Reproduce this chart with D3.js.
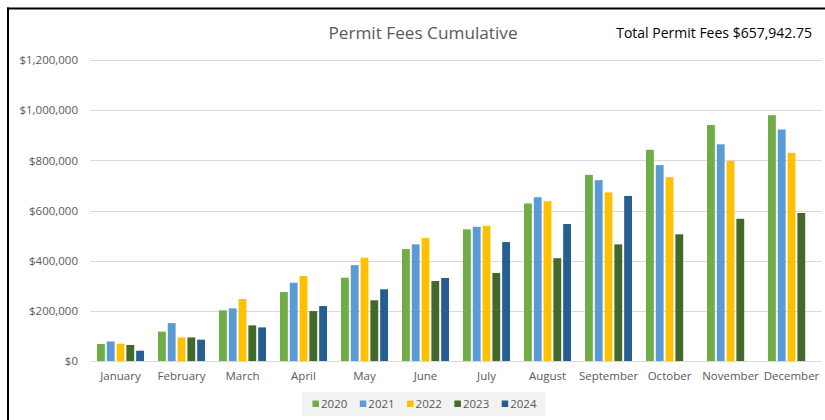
<!DOCTYPE html>
<html><head><meta charset="utf-8">
<script src="https://cdn.jsdelivr.net/npm/d3@7/dist/d3.min.js"></script>
<style>body{margin:0;background:#fff;}svg{display:block;}</style>
</head><body>
<script>
const months = ["January","February","March","April","May","June","July","August","September","October","November","December"];
const years = ["2020","2021","2022","2023","2024"];
const v2020 = [68000,117000,202000,275000,332000,446000,525000,628000,742000,842000,941000,980000];
const v2021 = [78000,151000,210000,312000,382000,465000,535000,653000,721000,781000,864000,923000];
const v2022 = [69000,94000,247000,339000,412000,490000,539000,637000,672000,733000,798000,830000];
const v2023 = [64000,94000,142000,199000,242000,319000,351000,410000,465000,505000,567000,590000];
const v2024 = [41000,85000,134000,219000,286000,331000,474000,546000,657943,null,null,null];
const yTicks = [0,200000,400000,600000,800000,1000000,1200000];
const colors = ["#70AD47","#5B9BD5","#FFC000","#43682B","#255E91"];
const title = "Permit Fees Cumulative";
const totalLabel = "Total Permit Fees $657,942.75";

const series = [v2020,v2021,v2022,v2023,v2024];
const W = 825, H = 420;
const svg = d3.select("body").append("svg").attr("width",W).attr("height",H);
const font = "'Open Sans', 'Segoe UI', sans-serif";

// frame lines
svg.append("rect").attr("x",7).attr("y",7.5).attr("width",W-7).attr("height",2).attr("fill","#000");
svg.append("rect").attr("x",7).attr("y",7.5).attr("width",2).attr("height",H-7.5).attr("fill","#000");

const x0 = d3.scaleBand().domain(months).range([90,822]).paddingInner(0).paddingOuter(0);
const x1 = d3.scaleBand().domain(years).range([x0.bandwidth()/2-23.5, x0.bandwidth()/2+23.5]).paddingInner(0.2);
const y = d3.scaleLinear().domain([0,1200000]).range([361,60]);

// gridlines
svg.append("g").selectAll("line").data(yTicks).join("line")
  .attr("x1",90).attr("x2",822)
  .attr("y1",d=>Math.round(y(d))+0.5).attr("y2",d=>Math.round(y(d))+0.5)
  .attr("stroke","#D9D9D9").attr("stroke-width",1);

// y axis labels
const yAxis = d3.axisLeft(y).tickValues(yTicks).tickSize(0).tickPadding(0)
  .tickFormat(d=>"$"+d3.format(",")(d));
const gy = svg.append("g").attr("transform","translate(78,0)").call(yAxis);
gy.select(".domain").remove();
gy.selectAll("text").attr("font-family",font).attr("font-size",11.5).attr("fill","#595959");

// bars
const groups = svg.append("g").selectAll("g").data(months).join("g")
  .attr("transform",d=>`translate(${x0(d)},0)`);
groups.selectAll("rect").data((m,i)=>years.map((yr,j)=>({yr, v: series[j][i], c: colors[j]})).filter(d=>d.v!=null))
  .join("rect")
  .attr("x",d=>x1(d.yr)).attr("width",x1.bandwidth())
  .attr("y",d=>y(d.v)).attr("height",d=>y(0)-y(d.v))
  .attr("fill",d=>d.c);

// x axis labels
const xAxis = d3.axisBottom(x0).tickSize(0).tickPadding(0);
const gx = svg.append("g").attr("transform","translate(0,372)").call(xAxis);
gx.select(".domain").remove();
gx.selectAll("text").attr("font-family",font).attr("font-size",11.5).attr("fill","#595959");

// title
svg.append("text").attr("x",423).attr("y",39).attr("text-anchor","middle")
  .attr("font-family",font).attr("font-size",17.2).attr("fill","#595959").text(title);
svg.append("text").attr("x",812).attr("y",38).attr("text-anchor","end")
  .attr("font-family",font).attr("font-size",14).attr("fill","#000").text(totalLabel);

// legend
const lg = svg.append("g");
lg.append("rect").attr("x",302).attr("y",392).attr("width",243).attr("height",24).attr("fill","#F2F2F2");
const itemX = d3.scaleBand().domain(years).range([312.5,549]);
const items = lg.selectAll("g.item").data(years).join("g").attr("class","item")
  .attr("transform",d=>`translate(${itemX(d)},0)`);
items.append("rect").attr("x",0).attr("y",400.5).attr("width",6.5).attr("height",6.5).attr("fill",(d,i)=>colors[i]);
items.append("text").attr("x",8.5).attr("y",408).attr("font-family",font).attr("font-size",11.5)
  .attr("fill","#595959").text(d=>d);
</script>
</body></html>
